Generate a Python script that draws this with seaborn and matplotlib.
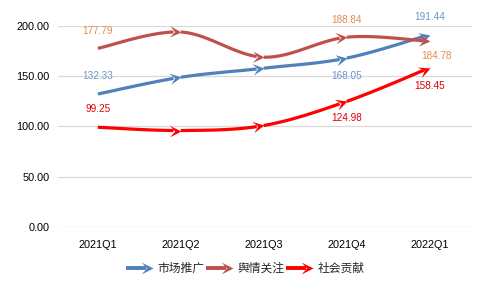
import numpy as np
import pandas as pd
import matplotlib
matplotlib.use("Agg")
import matplotlib.pyplot as plt
import seaborn as sns
from matplotlib.path import Path
from matplotlib.markers import MarkerStyle
from matplotlib.transforms import Affine2D
from matplotlib.lines import Line2D
from matplotlib.legend_handler import HandlerBase

# ---- data ----
categories = ["2021Q1", "2021Q2", "2021Q3", "2021Q4", "2022Q1"]
market = [132.33, 149.0, 158.0, 168.05, 191.44]      # 市场推广
opinion = [177.79, 194.0, 169.0, 188.84, 184.78]     # 舆情关注
social = [99.25, 96.0, 101.0, 124.98, 158.45]        # 社会贡献
series_names = ["市场推广", "舆情关注", "社会贡献"]
y_ticks = [0, 50, 100, 150, 200]

line_colors = ["#4F81BD", "#C0504D", "#FF0000"]
label_colors = ["#6F95C9", "#E48A4E", "#E00000"]
# label placements (index, dx px, dy px) ; dy positive = up
label_spec = [
    [(0, 0, 18), (3, 0, -18), (4, 0, 18)],
    [(0, 0, 17), (3, 0, 17), (4, 7, -15)],
    [(0, 0, 18), (3, 0, -17), (4, 0, -18)],
]

sns.set_theme(style="white")
plt.rcParams["font.family"] = ["Liberation Sans", "Noto Sans CJK SC", "DejaVu Sans"]

W, H = 487, 287
fig = plt.figure(figsize=(W / 100, H / 100), dpi=100)
ax = fig.add_axes([58 / W, 1 - 227 / H, (472 - 58) / W, (227 - 26) / H])
ax.set_xlim(-0.48, 4.51)
ax.set_ylim(0, 200)
for s in ax.spines.values():
    s.set_visible(False)
ax.set_yticks(y_ticks)
ax.set_yticklabels([f"{v:.2f}" for v in y_ticks], fontsize=7.8, color="#000000")
ax.set_xticks(range(len(categories)))
ax.set_xticklabels(categories, fontsize=7.8, color="#000000")
ax.tick_params(axis="both", length=0)
ax.tick_params(axis="y", pad=6)
ax.tick_params(axis="x", pad=9)
ax.yaxis.grid(True, color="#D9D9D9", lw=0.9)
ax.xaxis.grid(False)
ax.set_axisbelow(True)


def arrow_marker(theta):
    verts = [(0, 0), (-1, 0.5), (-0.55, 0), (-1, -0.5), (0, 0)]
    codes = [Path.MOVETO, Path.LINETO, Path.LINETO, Path.LINETO, Path.CLOSEPOLY]
    return MarkerStyle(Path(verts, codes), transform=Affine2D().rotate(theta))


LW = 2.3
MS = 16.5

inv = ax.transData.inverted()
all_series = [market, opinion, social]
for k, vals in enumerate(all_series):
    P = ax.transData.transform(np.column_stack([np.arange(len(vals)), vals]))
    n = len(P)
    for i in range(n - 1):
        p0 = P[i - 1] if i > 0 else P[i]
        p1, p2 = P[i], P[i + 1]
        p3 = P[i + 2] if i + 2 < n else P[i + 1]
        c1 = p1 + (p2 - p0) / 6.0
        c2 = p2 - (p3 - p1) / 6.0
        t = np.linspace(0, 1, 60)[:, None]
        pts = (1 - t) ** 3 * p1 + 3 * (1 - t) ** 2 * t * c1 + 3 * (1 - t) * t ** 2 * c2 + t ** 3 * p2
        d = np.hypot(pts[:, 0] - p2[0], pts[:, 1] - p2[1])
        pts = pts[d > 6]
        dpts = inv.transform(pts)
        seg = pd.DataFrame({"x": dpts[:, 0], "y": dpts[:, 1]})
        sns.lineplot(data=seg, x="x", y="y", sort=False, estimator=None,
                     color=line_colors[k], lw=LW, ax=ax, solid_capstyle="butt")
        dv = p2 - c2
        theta = np.arctan2(dv[1], dv[0])
        ax.plot([i + 1], [vals[i + 1]], ls="none", marker=arrow_marker(theta),
                ms=MS, color=line_colors[k], mew=0, zorder=3)
    for (idx, dx, dy) in label_spec[k]:
        ax.annotate(f"{vals[idx]:.2f}", xy=(idx, vals[idx]), xytext=(dx * 0.72, dy * 0.72),
                    textcoords="offset points", ha="center", va="center",
                    fontsize=7.2, color=label_colors[k], annotation_clip=False)

ax.set_xlabel("")
ax.set_ylabel("")


class ArrowHandler(HandlerBase):
    def create_artists(self, legend, orig_handle, xdescent, ydescent, width, height, fontsize, trans):
        c = orig_handle.get_color()
        y = height / 2 - ydescent
        x0 = -xdescent
        x1 = width - xdescent
        ln = Line2D([x0, x1 - 5], [y, y], color=c, lw=2.8, transform=trans, solid_capstyle="butt")
        mk = Line2D([x1], [y], ls="none", marker=arrow_marker(0), ms=17, mew=0, color=c, transform=trans)
        return [ln, mk]


handles = [Line2D([], [], color=c) for c in line_colors]
fig.legend(handles, series_names, loc="center", bbox_to_anchor=(245 / W, 1 - 269 / H),
           ncol=3, frameon=False, fontsize=8.5, handlelength=2.3, handletextpad=0.35,
           columnspacing=0.15, handler_map={Line2D: ArrowHandler()})

fig.savefig("out.png", dpi=100)
